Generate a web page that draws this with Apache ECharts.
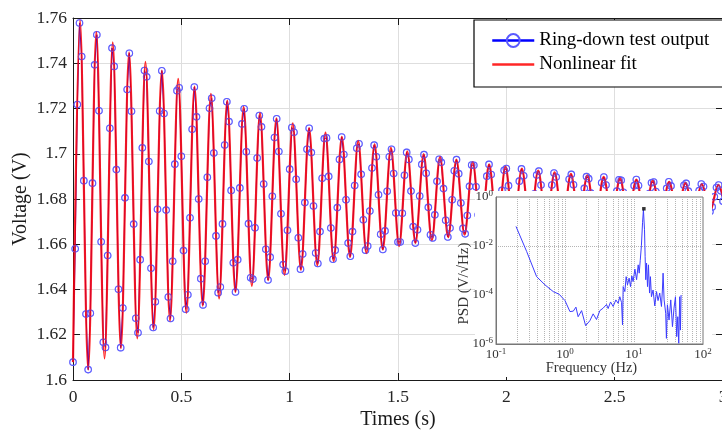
<!DOCTYPE html>
<html><head><meta charset="utf-8">
<script src="https://cdn.jsdelivr.net/npm/echarts@6/dist/echarts.min.js"></script>
<style>html,body{margin:0;padding:0;background:#fff}#c{width:722px;height:432px}</style>
</head><body><div id="c"></div>
<script>
// ---------------- data ----------------
const sampleStep = 0.01; // s between ring-down samples
const ringdownVoltage = [
1.6079,1.6580,1.7218,1.7578,1.7430,1.6881,1.6292,1.6046,1.6295,1.6870,1.7393,1.7526,1.7190,1.6611,1.6167,
1.6144,1.6550,1.7113,1.7467,1.7386,1.6930,1.6401,1.6143,1.6318,1.6805,1.7284,1.7444,1.7188,1.6689,1.6273,
1.6209,1.6532,1.7026,1.7368,1.7340,1.6966,1.6494,1.6232,1.6346,1.6755,1.7189,1.7367,1.7178,1.6751,1.6367,
1.6272,1.6525,1.6954,1.7279,1.7292,1.6989,1.6572,1.6313,1.6377,1.6717,1.7108,1.7295,1.7163,1.6800,1.6448,
1.6332,1.6525,1.6896,1.7201,1.7245,1.7003,1.6637,1.6386,1.6411,1.6690,1.7039,1.7230,1.7142,1.6838,1.6518,
1.6389,1.6532,1.6849,1.7132,1.7199,1.7009,1.6691,1.6452,1.6446,1.6673,1.6981,1.7169,1.7119,1.6866,1.6578,
1.6442,1.6543,1.6812,1.7072,1.7155,1.7010,1.6735,1.6510,1.6481,1.6662,1.6932,1.7116,1.7095,1.6887,1.6629,
1.6490,1.6557,1.6784,1.7020,1.7113,1.7005,1.6769,1.6561,1.6515,1.6656,1.6892,1.7067,1.7070,1.6900,1.6672,
1.6534,1.6574,1.6762,1.6975,1.7074,1.6997,1.6797,1.6605,1.6547,1.6656,1.6860,1.7024,1.7044,1.6909,1.6708,
1.6574,1.6592,1.6747,1.6937,1.7038,1.6987,1.6819,1.6644,1.6577,1.6659,1.6834,1.6987,1.7020,1.6913,1.6738,
1.6610,1.6610,1.6737,1.6905,1.7006,1.6975,1.6835,1.6678,1.6605,1.6664,1.6813,1.6953,1.6996,1.6914,1.6763,
1.6642,1.6628,1.6730,1.6878,1.6976,1.6962,1.6846,1.6706,1.6632,1.6672,1.6797,1.6925,1.6974,1.6912,1.6782,
1.6670,1.6646,1.6727,1.6856,1.6950,1.6949,1.6854,1.6730,1.6656,1.6680,1.6785,1.6901,1.6953,1.6908,1.6798,
1.6694,1.6663,1.6726,1.6838,1.6927,1.6935,1.6859,1.6750,1.6678,1.6689,1.6776,1.6879,1.6933,1.6903,1.6810,
1.6715,1.6680,1.6727,1.6823,1.6906,1.6923,1.6862,1.6766,1.6697,1.6699,1.6770,1.6862,1.6915,1.6897,1.6819,
1.6733,1.6696,1.6730,1.6811,1.6887,1.6909,1.6863,1.6780,1.6714,1.6709,1.6766,1.6847,1.6899,1.6890,1.6826,
1.6749,1.6710,1.6733,1.6802,1.6872,1.6897,1.6862,1.6791,1.6730,1.6719,1.6764,1.6835,1.6885,1.6883,1.6830,
1.6762,1.6723,1.6738,1.6796,1.6859,1.6886,1.6860,1.6799,1.6743,1.6728,1.6763,1.6824,1.6872,1.6875,1.6833,
1.6773,1.6735,1.6742,1.6790,1.6847,1.6876,1.6858,1.6806,1.6755,1.6737,1.6763,1.6816,1.6861,1.6869,1.6835,
1.6783,1.6746,1.6747,1.6787,1.6837,1.6866,1.6855,1.6811,1.6765,1.6745,1.6765,1.6810,1.6851,1.6862,1.6836,
1.6790];

// nonlinear fit: start point and successive extrema (peak / trough)
const fitTime = [0,0.0323,0.0701,0.1078,0.1456,0.1834,0.2211,0.2589,0.2967,0.3344,0.3722,0.4100,0.4477,0.4855,0.5232,0.5610,0.5988,0.6365,0.6743,0.7121,0.7498,0.7876,0.8254,0.8631,0.9009,0.9387,0.9764,1.0142,1.0520,1.0897,1.1275,1.1653,1.2030,1.2408,1.2785,1.3163,1.3541,1.3918,1.4296,1.4674,1.5051,1.5429,1.5807,1.6184,1.6562,1.6940,1.7317,1.7695,1.8073,1.8450,1.8828,1.9206,1.9583,1.9961,2.0338,2.0716,2.1094,2.1471,2.1849,2.2227,2.2604,2.2982,2.3360,2.3737,2.4115,2.4493,2.4870,2.5248,2.5626,2.6003,2.6381,2.6759,2.7136,2.7514,2.7891,2.8269,2.8647,2.9024,2.9402,2.9780,3.0157];
const fitVoltage = [1.6079,1.7590,1.6046,1.7539,1.6095,1.7492,1.6141,1.7448,1.6184,1.7406,1.6224,1.7367,1.6261,1.7331,1.6297,1.7297,1.6329,1.7265,1.6360,1.7235,1.6389,1.7207,1.6416,1.7181,1.6441,1.7157,1.6465,1.7134,1.6487,1.7113,1.6507,1.7093,1.6526,1.7075,1.6544,1.7057,1.6561,1.7041,1.6577,1.7026,1.6592,1.7011,1.6606,1.6998,1.6618,1.6986,1.6631,1.6974,1.6642,1.6963,1.6652,1.6953,1.6662,1.6943,1.6671,1.6934,1.6680,1.6926,1.6688,1.6918,1.6696,1.6911,1.6703,1.6904,1.6709,1.6898,1.6716,1.6892,1.6721,1.6886,1.6727,1.6881,1.6732,1.6876,1.6737,1.6871,1.6741,1.6867,1.6745,1.6863,1.6749];

// inset PSD
const psdFreq = [0.195,0.278,0.388,0.512,0.675,0.824,1.0,1.18,1.32,1.44,1.55,1.74,1.99,2.29,2.56,2.86,3.2,3.57,4.0,4.22,4.57,4.99,5.46,5.89,6.23,6.6,6.82,6.97,7.37,7.7,8.05,8.5,8.9,9.3,9.7,10.3,10.9,11.5,11.9,12.3,12.8,13.3,13.7,14.2,14.5,14.8,15.2,15.7,16.2,16.8,17.3,17.9,18.9,20.0,21.2,22.3,23.6,25.0,25.8,26.4,27.3,28.8,29.5,30.5,32.2,34.1,36.1,38.0,39.9,41.6,43.1,44.5,46.0,47.1,48.1];
const psdValue = [6.3e-2,6.0e-3,5.6e-4,2.6e-4,1.38e-4,1.07e-4,5.9e-5,2.1e-5,2.2e-5,3.2e-5,1.3e-5,2.3e-5,5.6e-6,8.9e-6,1.7e-5,1.0e-5,2.3e-5,2.9e-5,4.1e-5,2.8e-5,5.2e-5,3.4e-5,6.3e-5,4.6e-5,8.5e-5,4.9e-5,6.0e-6,2.2e-4,1.38e-4,5.6e-4,2.6e-4,4.9e-4,2.2e-4,6.0e-4,3.5e-4,1.14e-3,4.2e-4,1.7e-3,7.8e-4,2.5e-3,1.02e-2,8.9e-2,0.30,4.6e-2,3.7e-3,4.2e-4,2.0e-3,2.2e-4,1.7e-3,1.2e-4,5.6e-4,8.5e-5,1.6e-4,3.6e-5,1.38e-4,5.9e-5,1.2e-4,3.4e-5,1.6e-4,7.8e-4,6.3e-5,1.8e-5,1.7e-6,4.0e-5,9.5e-6,6.3e-5,5.1e-6,2.9e-5,8.5e-5,2.0e-6,1.3e-5,1.07e-6,8.5e-5,3.7e-6,1.0e-4];
const psdPeak = [13.9, 0.33];

const legendNames = ['Ring-down test output', 'Nonlinear fit'];

// ---------------- build ----------------
const ringData = ringdownVoltage.map((v, i) => [+(i * sampleStep).toFixed(2), v]);
const fitData = fitTime.map((t, i) => [t, fitVoltage[i]]);
const psdData = psdFreq.map((f, i) => [f, psdValue[i]]);

const minorX = [];
[0.1, 1, 10].forEach(d => { for (let k = 1; k <= 9; k++) { if (!(d === 0.1 && k === 1)) minorX.push(+(k * d).toPrecision(3)); } });
const gridY = [1e-2, 1e-4];

const SERIF = "'Liberation Serif','Times New Roman','DejaVu Serif',serif";
const AX = '#1a1a1a';
const richLog = {
  b: {fontSize: 13, fontFamily: SERIF, color: '#333', lineHeight: 15},
  s: {fontSize: 9, fontFamily: SERIF, color: '#333', verticalAlign: 'top', lineHeight: 9}
};
function logLabel(v, skipOdd) {
  const e = Math.round(Math.log10(v));
  if (skipOdd && e % 2 !== 0) return '';
  return '{b|10}{s|' + e + '}';
}

const chart = echarts.init(document.getElementById('c'));
chart.setOption({
  animation: false,
  backgroundColor: '#fff',
  textStyle: {fontFamily: SERIF},
  graphic: [{type: 'rect', shape: {x: 475, y: 191, width: 237, height: 186}, style: {fill: '#fff'}, z: 4, silent: true}],
  legend: {
    orient: 'vertical', left: 474, top: 20, z: 20,
    data: [legendNames[0], {name: legendNames[1], itemStyle: {opacity: 0}}],
    itemWidth: 42, itemHeight: 16, itemGap: 5,
    padding: [11, 30, 13, 17],
    borderColor: '#000', borderWidth: 1.2, backgroundColor: '#fff',
    lineStyle: {width: 2.5},
    textStyle: {fontSize: 19, color: '#000', fontFamily: SERIF}
  },
  grid: [
    {left: 73, top: 18, width: 650, height: 362, containLabel: false, outerBoundsMode: 'none'},
    {left: 496, top: 197, width: 207, height: 147, containLabel: false, outerBoundsMode: 'none',
     show: true, backgroundColor: 'transparent', borderColor: '#777', borderWidth: 1, z: 10}
  ],
  xAxis: [
    {type: 'value', gridIndex: 0, min: 0, max: 3, interval: 0.5, position: 'bottom',
     axisLine: {show: true, onZero: false, lineStyle: {color: AX, width: 1}},
     axisTick: {show: true, inside: true, length: 7, lineStyle: {color: AX}},
     axisLabel: {fontSize: 17.5, color: '#262626', margin: 8, fontFamily: SERIF},
     splitLine: {show: true, lineStyle: {color: '#dedede', width: 1}},
     name: 'Times (s)', nameLocation: 'middle', nameGap: 30, nameMoveOverlap: false,
     nameTextStyle: {fontSize: 20, color: AX, fontFamily: SERIF}},
    {type: 'value', gridIndex: 0, min: 0, max: 3, interval: 0.5, position: 'top',
     axisLine: {show: true, onZero: false, lineStyle: {color: AX, width: 1}},
     axisTick: {show: true, inside: true, length: 7, lineStyle: {color: AX}},
     axisLabel: {show: false}, splitLine: {show: false}},
    {type: 'log', logBase: 10, gridIndex: 1, min: 0.1, max: 100, z: 12,
     axisLine: {show: true, onZero: false, lineStyle: {color: '#777', width: 1}},
     axisTick: {show: false},
     axisLabel: {margin: 3, formatter: v => logLabel(v, false), rich: richLog},
     splitLine: {show: false},
     name: 'Frequency (Hz)', nameLocation: 'middle', nameGap: 17, nameMoveOverlap: false,
     nameTextStyle: {fontSize: 14.5, color: '#333', fontFamily: SERIF, padding: [0, 16, 0, 0]}}
  ],
  yAxis: [
    {type: 'value', gridIndex: 0, min: 1.6, max: 1.76, interval: 0.02, position: 'left',
     axisLine: {show: true, onZero: false, lineStyle: {color: AX, width: 1}},
     axisTick: {show: true, inside: true, length: 7, lineStyle: {color: AX}},
     axisLabel: {fontSize: 17.5, color: '#262626', margin: 6, fontFamily: SERIF},
     splitLine: {show: true, lineStyle: {color: '#dedede', width: 1}},
     name: 'Voltage (V)', nameLocation: 'middle', nameGap: 42, nameRotate: 90, nameMoveOverlap: false,
     nameTextStyle: {fontSize: 20, color: AX, fontFamily: SERIF}},
    {type: 'value', gridIndex: 0, min: 1.6, max: 1.76, interval: 0.02, position: 'right',
     axisLine: {show: true, onZero: false, lineStyle: {color: AX, width: 1}},
     axisTick: {show: true, inside: true, length: 7, lineStyle: {color: AX}},
     axisLabel: {show: false}, splitLine: {show: false}},
    {type: 'log', logBase: 10, gridIndex: 1, min: 1e-6, max: 1, z: 12,
     axisLine: {show: true, onZero: false, lineStyle: {color: '#777', width: 1}},
     axisTick: {show: false},
     axisLabel: {margin: 3, formatter: v => logLabel(v, true), rich: richLog},
     splitLine: {show: false},
     name: 'PSD (V/\u221AHz)', nameLocation: 'middle', nameGap: 24, nameRotate: 90, nameMoveOverlap: false,
     nameTextStyle: {fontSize: 15, color: '#333', fontFamily: SERIF, padding: [0, 26, 0, 0]}}
  ],
  series: [
    {type: 'line', name: legendNames[0], xAxisIndex: 0, yAxisIndex: 0, data: ringData, z: 1,
     symbol: 'circle', symbolSize: 6.5, showSymbol: true,
     lineStyle: {color: '#0000ff', width: 1},
     itemStyle: {color: 'rgba(0,0,0,0)', borderColor: '#5a5aff', borderWidth: 1.1}},
    {type: 'line', name: legendNames[1], xAxisIndex: 0, yAxisIndex: 0, data: fitData, z: 2,
     symbol: 'none', smooth: 0.33,
     lineStyle: {color: '#ff0000', width: 2.2, opacity: 0.85},
     itemStyle: {color: '#ff0000'}},
    {type: 'scatter', name: legendNames[0], xAxisIndex: 0, yAxisIndex: 0, data: ringData, z: 3,
     symbol: 'circle', symbolSize: 6.5, silent: true,
     itemStyle: {color: 'rgba(0,0,0,0)', borderColor: 'rgba(95,95,255,0.55)', borderWidth: 1.1}},
    {type: 'line', name: 'psdGrid', xAxisIndex: 2, yAxisIndex: 2, data: [], z: 11,
     markLine: {silent: true, symbol: ['none', 'none'], label: {show: false}, z: 11,
       lineStyle: {color: '#b5b5b5', type: 'dotted', width: 1},
       data: minorX.map(v => ({xAxis: v})).concat(gridY.map(v => ({yAxis: v})))}},
    {type: 'line', name: 'PSD', xAxisIndex: 2, yAxisIndex: 2, data: psdData, z: 12,
     symbol: 'none', lineStyle: {color: '#3c3cff', width: 1}},
    {type: 'scatter', name: 'PSD peak', xAxisIndex: 2, yAxisIndex: 2, data: [psdPeak], z: 13,
     symbol: 'rect', symbolSize: 3.5, itemStyle: {color: '#000'}}
  ]
});
</script></body></html>
